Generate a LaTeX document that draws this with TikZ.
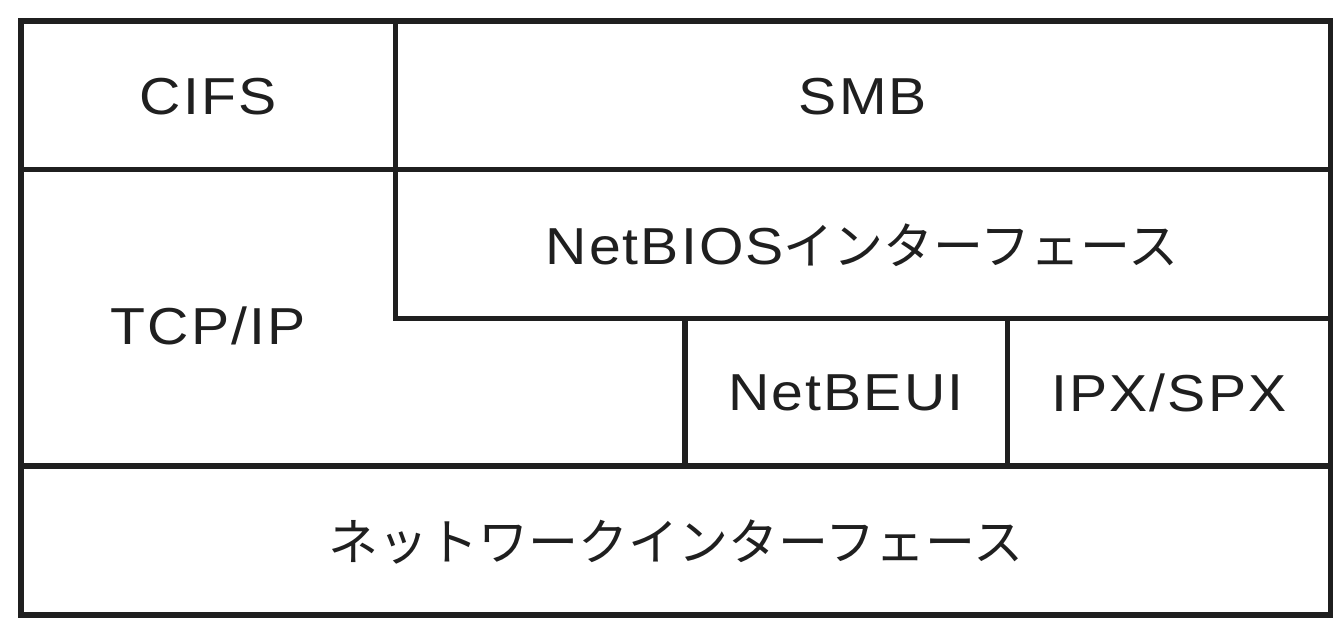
\documentclass[tikz,border=0pt]{standalone}
\usepackage{fontspec}
\setmainfont{Liberation Sans}[LetterSpace=4,FakeStretch=1.1]
\newfontfamily\jpfont{Noto Sans CJK JP}
\begin{document}
\begin{tikzpicture}[x=0.75pt,y=-0.75pt,
  frame/.style={line width=4.3pt,draw=black!88,line cap=rect,line join=miter},
  lbl/.style={font=\fontsize{39}{42}\selectfont,text=black!88,inner sep=0pt,anchor=center}]
\newcommand{\jp}[1]{{\jpfont\fontsize{37.5}{40}\selectfont #1}}
\useasboundingbox (0,0) rectangle (1342,630);
% outer frame
\draw[frame] (21,21) rectangle (1330.5,615);
% horizontal rules
\draw[frame] (21,169.5) -- (1330.5,169.5);
\draw[frame] (395.5,318.5) -- (1330.5,318.5);
\draw[frame] (21,466) -- (1330.5,466);
% vertical rules
\draw[frame] (395.5,21) -- (395.5,318.5);
\draw[frame] (685,318.5) -- (685,466);
\draw[frame] (1007.5,318.5) -- (1007.5,466);
% labels
\node[lbl] (cifs) at (208,97) {CIFS};
\node[lbl] (smb) at (863,97) {SMB};
\node[lbl] (netbios) at (862,245) {NetBIOS\jp{インターフェース}};
\node[lbl] (tcpip) at (208,326) {TCP/IP};
\node[lbl] (netbeui) at (846,393) {NetBEUI};
\node[lbl] (ipx) at (1169,393) {IPX/SPX};
\node[lbl] (nif) at (676,542) {\jp{ネットワークインターフェース}};
\end{tikzpicture}
\end{document}
